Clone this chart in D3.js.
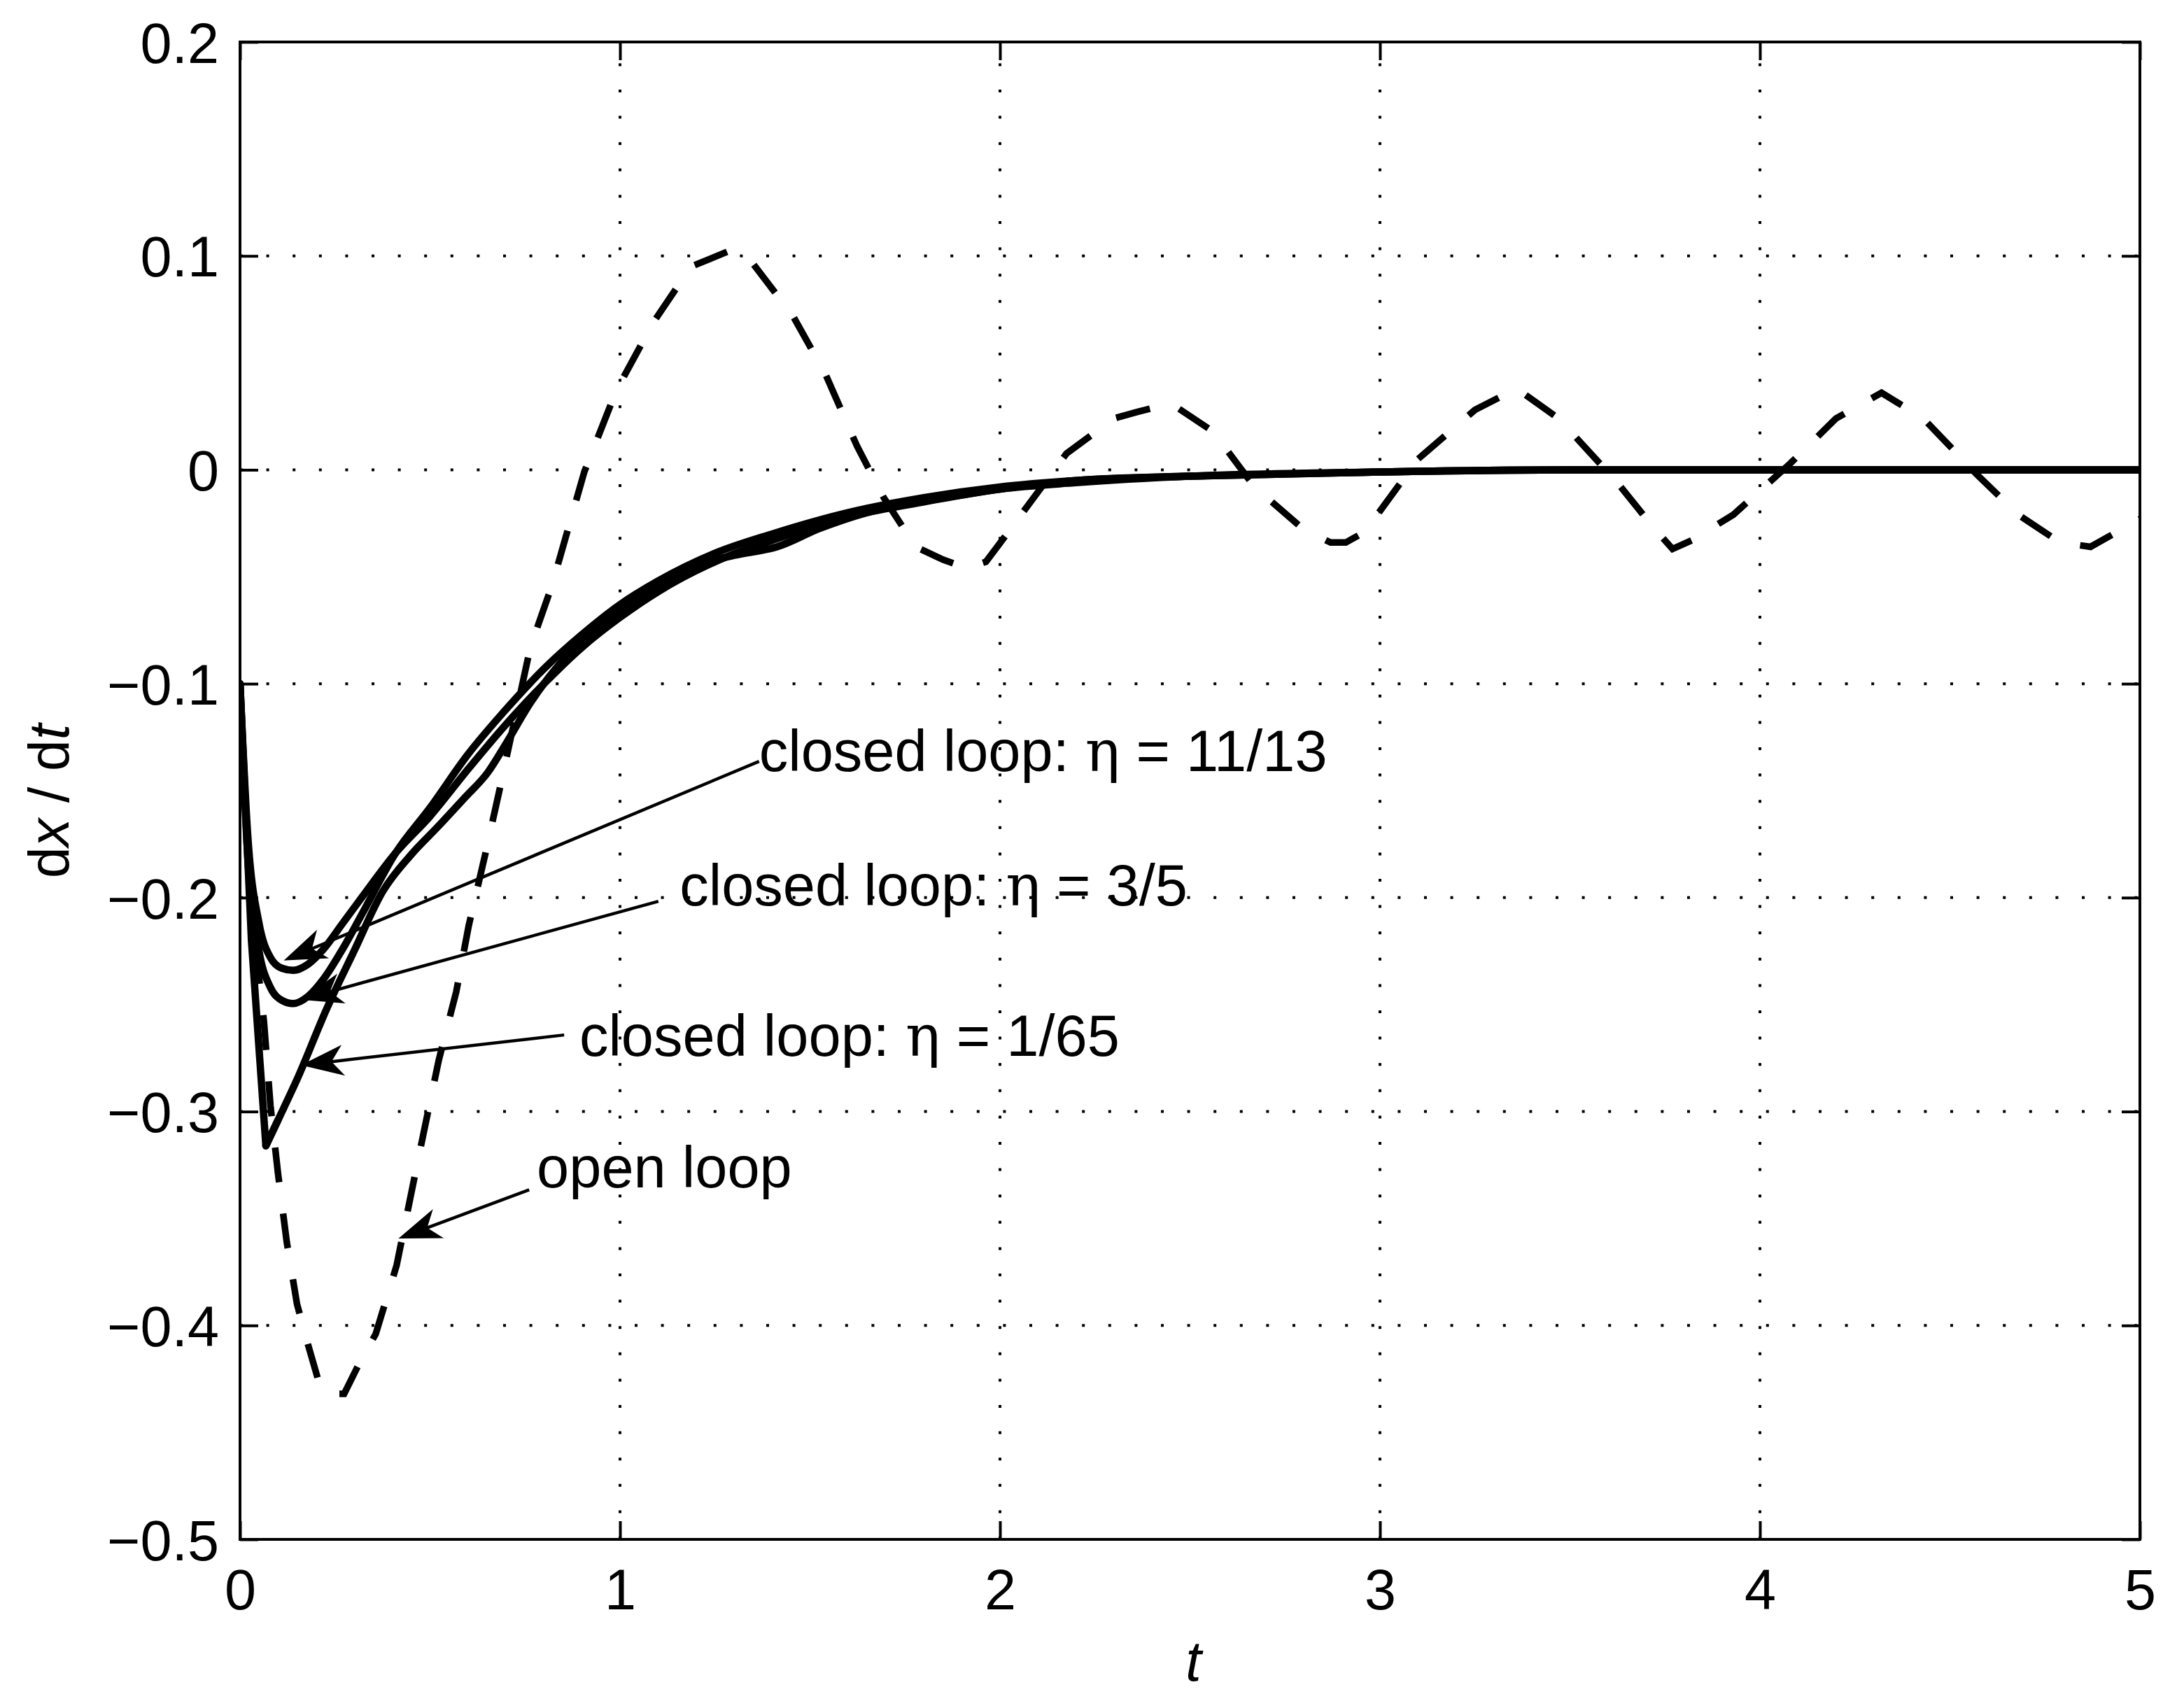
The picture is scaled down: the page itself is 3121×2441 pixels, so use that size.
<!DOCTYPE html>
<html>
<head>
<meta charset="utf-8">
<script src="https://cdn.jsdelivr.net/npm/d3@7"></script>
<style>
  html, body { margin: 0; padding: 0; background: #fff; }
  svg { display: block; }
  text { font-family: "Liberation Sans", Arial, Helvetica, sans-serif; fill: #000; }
</style>
</head>
<body>
<script>
// ---------------- data ----------------
const xTicks = [0, 1, 2, 3, 4, 5];
const yTicks = [0.2, 0.1, 0, -0.1, -0.2, -0.3, -0.4, -0.5];
const yTickLabels = ["0.2", "0.1", "0", "\u22120.1", "\u22120.2", "\u22120.3", "\u22120.4", "\u22120.5"];

// open loop (dashed)
const tOpen = [0, 0.015, 0.03, 0.046, 0.063, 0.08, 0.1, 0.123, 0.15, 0.179, 0.205, 0.228, 0.274, 0.313, 0.357, 0.412, 0.468, 0.523, 0.569, 0.602, 0.645, 0.68, 0.764, 0.821, 0.906, 0.99, 1.088, 1.187, 1.29, 1.343, 1.455, 1.54, 1.624, 1.694, 1.778, 1.85, 1.913, 1.963, 2.018, 2.175, 2.30, 2.36, 2.45, 2.56, 2.67, 2.80, 2.87, 2.91, 2.96, 3.10, 3.25, 3.36, 3.47, 3.62, 3.72, 3.77, 3.82, 3.93, 4.08, 4.20, 4.32, 4.43, 4.57, 4.68, 4.79, 4.87, 5.0];
const vOpen = [-0.10, -0.16, -0.205, -0.231, -0.258, -0.297, -0.329, -0.361, -0.39, -0.409, -0.425, -0.432, -0.432, -0.418, -0.404, -0.372, -0.323, -0.276, -0.244, -0.213, -0.18, -0.152, -0.083, -0.054, -0.001, 0.037, 0.069, 0.095, 0.1025, 0.098, 0.072, 0.045, 0.011, -0.013, -0.036, -0.042, -0.046, -0.043, -0.030, 0.0076, 0.024, 0.027, 0.031, 0.018, -0.008, -0.028, -0.034, -0.034, -0.029, 0.005, 0.028, 0.038, 0.024, -0.005, -0.027, -0.037, -0.033, -0.021, 0.003, 0.024, 0.036, 0.024, -0.002, -0.021, -0.034, -0.036, -0.023];

// closed loop, eta = 11/13
const tEta1113 = [0, 0.02, 0.05, 0.08, 0.11, 0.14, 0.18, 0.22, 0.27, 0.32, 0.41, 0.5, 0.6, 0.7, 0.8, 0.9, 1.0, 1.1, 1.25, 1.4, 1.6, 1.8, 2.0, 2.2, 2.5, 3.0, 3.5, 4.0, 4.5, 5.0];
const vEta1113 = [-0.10, -0.17, -0.212, -0.228, -0.233, -0.234, -0.231, -0.224, -0.212, -0.200, -0.179, -0.162, -0.140, -0.119, -0.100, -0.083, -0.069, -0.057, -0.043, -0.033, -0.022, -0.015, -0.009, -0.006, -0.003, -0.001, 0, 0, 0, 0];

// closed loop, eta = 3/5
const tEta35 = [0, 0.02, 0.05, 0.08, 0.11, 0.14, 0.18, 0.22, 0.27, 0.32, 0.41, 0.5, 0.6, 0.7, 0.8, 0.9, 1.0, 1.1, 1.25, 1.4, 1.6, 1.8, 2.0, 2.2, 2.5, 3.0, 3.5, 4.0, 4.5, 5.0];
const vEta35 = [-0.10, -0.18, -0.225, -0.242, -0.248, -0.2495, -0.246, -0.238, -0.224, -0.208, -0.179, -0.158, -0.133, -0.112, -0.093, -0.077, -0.063, -0.052, -0.039, -0.030, -0.020, -0.013, -0.008, -0.005, -0.003, -0.001, 0, 0, 0, 0];

// closed loop, eta = 1/65
const tEta165 = [0, 0.03, 0.068, 0.1, 0.15, 0.228, 0.3, 0.376, 0.45, 0.52, 0.593, 0.652, 0.7, 0.764, 0.85, 0.963, 1.07, 1.173, 1.3, 1.413, 1.527, 1.65, 1.808, 2.0, 2.2, 2.5, 3.0, 3.5, 4.0, 5.0];
const vEta165 = [-0.10, -0.22, -0.316, -0.304, -0.285, -0.252, -0.225, -0.197, -0.180, -0.167, -0.153, -0.1415, -0.128, -0.109, -0.089, -0.0712, -0.057, -0.0464, -0.040, -0.036, -0.0273, -0.020, -0.0145, -0.009, -0.005, -0.003, -0.001, 0, 0, 0];

// annotations: label, text anchor (t, v), arrow tail (t, v), arrow tip (t, v)
const annLabels = ["closed loop: ", "closed loop: ", "closed loop: ", "open loop"];
const annEta = ["11/13", "3/5", "1/65", null];
const annTextT = [1.366, 1.157, 0.893, 0.781];
const annTextV = [-0.1408, -0.2037, -0.274, -0.3355];
const annTailT = [1.366, 1.101, 0.853, 0.761];
const annTailV = [-0.1363, -0.2017, -0.2642, -0.3366];
const annTipT = [0.12, 0.164, 0.166, 0.422];
const annTipV = [-0.229, -0.2475, -0.2782, -0.359];

// ---------------- layout ----------------
const W = 3121, H = 2441;
const L = 343, R = 3058, T = 60, B = 2200;
const FONT = 81, AFONT = 83;

const svg = d3.select("body").append("svg").attr("width", W).attr("height", H);
svg.append("rect").attr("width", W).attr("height", H).attr("fill", "#fff");

const x = d3.scaleLinear().domain([0, 5]).range([L, R]);
const y = d3.scaleLinear().domain([-0.5, 0.2]).range([B, T]);

// grid (dotted)
const grid = svg.append("g");
grid.selectAll("line.gx").data(xTicks.slice(1, -1)).enter().append("line")
  .attr("x1", d => x(d)).attr("x2", d => x(d)).attr("y1", B).attr("y2", T)
  .attr("stroke", "#000").attr("stroke-width", 4).attr("stroke-dasharray", "4,33.6");
grid.selectAll("line.gy").data(yTicks.slice(1, -1)).enter().append("line")
  .attr("x1", L).attr("x2", R).attr("y1", d => y(d)).attr("y2", d => y(d))
  .attr("stroke", "#000").attr("stroke-width", 4).attr("stroke-dasharray", "4,33.6");

// curves
svg.append("clipPath").attr("id", "clip").append("rect")
  .attr("x", L).attr("y", T).attr("width", R - L).attr("height", B - T);
const lineLin = d3.line().x(d => x(d[0])).y(d => y(d[1]));
const lineSmooth = d3.line().x(d => x(d[0])).y(d => y(d[1])).curve(d3.curveMonotoneX);
const zip = (a, b) => a.map((v, i) => [v, b[i]]);
const curves = svg.append("g").attr("clip-path", "url(#clip)");

curves.append("path").datum(zip(tOpen, vOpen)).attr("d", lineLin)
  .attr("fill", "none").attr("stroke", "#000").attr("stroke-width", 9.5)
  .attr("stroke-dasharray", "50,45").attr("stroke-linejoin", "miter");
[[tEta1113, vEta1113], [tEta35, vEta35]].forEach(([tt, vv]) => {
  curves.append("path").datum(zip(tt, vv)).attr("d", lineSmooth)
    .attr("fill", "none").attr("stroke", "#000").attr("stroke-width", 10.5)
    .attr("stroke-linejoin", "round").attr("stroke-linecap", "round");
});
// eta = 1/65: sharp drop to the minimum, then smooth recovery
const p165 = zip(tEta165, vEta165);
curves.append("path").datum(p165.slice(0, 4)).attr("d", lineLin)
  .attr("fill", "none").attr("stroke", "#000").attr("stroke-width", 10.5)
  .attr("stroke-linejoin", "round").attr("stroke-linecap", "round");
curves.append("path").datum(p165.slice(2)).attr("d", lineSmooth)
  .attr("fill", "none").attr("stroke", "#000").attr("stroke-width", 10.5)
  .attr("stroke-linejoin", "round").attr("stroke-linecap", "round");

// axes box
svg.append("rect").attr("x", L).attr("y", T).attr("width", R - L).attr("height", B - T)
  .attr("fill", "none").attr("stroke", "#000").attr("stroke-width", 4);

// ticks on all four sides (inward)
const TK = 26;
function styleAxis(g) {
  g.select(".domain").remove();
  g.selectAll(".tick line").attr("stroke", "#000").attr("stroke-width", 4);
}
const axB = svg.append("g").attr("transform", `translate(0,${B})`)
  .call(d3.axisBottom(x).tickValues(xTicks).tickSizeInner(-TK).tickSizeOuter(0).tickPadding(42).tickFormat(d3.format("d")));
styleAxis(axB);
axB.selectAll(".tick text").attr("font-size", FONT).attr("font-family", "Liberation Sans, Arial, sans-serif").attr("dy", "0.71em");
const axT = svg.append("g").attr("transform", `translate(0,${T})`)
  .call(d3.axisTop(x).tickValues(xTicks).tickSizeInner(-TK).tickSizeOuter(0).tickFormat(""));
styleAxis(axT);
const axL = svg.append("g").attr("transform", `translate(${L},0)`)
  .call(d3.axisLeft(y).tickValues(yTicks).tickSizeInner(-TK).tickSizeOuter(0).tickPadding(30)
    .tickFormat((d, i) => yTickLabels[i]));
styleAxis(axL);
axL.selectAll(".tick text").attr("font-size", FONT).attr("font-family", "Liberation Sans, Arial, sans-serif").attr("dy", "0.36em");
const axR = svg.append("g").attr("transform", `translate(${R},0)`)
  .call(d3.axisRight(y).tickValues(yTicks).tickSizeInner(-TK).tickSizeOuter(0).tickFormat(""));
styleAxis(axR);

// axis labels
svg.append("text").attr("x", (L + R) / 2 + 5).attr("y", 2402).attr("text-anchor", "middle")
  .attr("font-size", FONT).attr("font-style", "italic").text("t");
const yl = svg.append("text").attr("transform", `translate(98,${(T + B) / 2 + 15}) rotate(-90)`)
  .attr("text-anchor", "middle").attr("font-size", FONT);
yl.append("tspan").text("d");
yl.append("tspan").attr("font-style", "italic").text("x");
yl.append("tspan").text(" / d");
yl.append("tspan").attr("font-style", "italic").text("t");

// annotations
const ann = svg.append("g");
annLabels.forEach((lab, i) => {
  const tx = x(annTailT[i]), ty = y(annTailV[i]);
  const hx = x(annTipT[i]), hy = y(annTipV[i]);
  const ang = Math.atan2(ty - hy, tx - hx);
  const HL = 55, HW = 20;
  const ux = Math.cos(ang), uy = Math.sin(ang);
  const px = -uy, py = ux;
  const bx = hx + ux * HL, by = hy + uy * HL;
  const nx = hx + ux * HL * 0.72, ny = hy + uy * HL * 0.72;
  ann.append("line").attr("x1", tx).attr("y1", ty).attr("x2", nx).attr("y2", ny)
    .attr("stroke", "#000").attr("stroke-width", 4.5);
  ann.append("path")
    .attr("d", `M${hx},${hy} L${bx + px * HW},${by + py * HW} L${nx},${ny} L${bx - px * HW},${by - py * HW} Z`)
    .attr("fill", "#000").attr("stroke", "#000").attr("stroke-width", 2).attr("stroke-linejoin", "miter");
  const t = ann.append("text").attr("x", x(annTextT[i])).attr("y", y(annTextV[i])).attr("font-size", AFONT);
  t.append("tspan").text(lab);
  if (annEta[i]) {
    t.append("tspan").attr("font-family", "DejaVu Serif, Liberation Serif, serif").text("\u03B7");
    t.append("tspan").text(" = " + annEta[i]);
  }
});
</script>
</body>
</html>
